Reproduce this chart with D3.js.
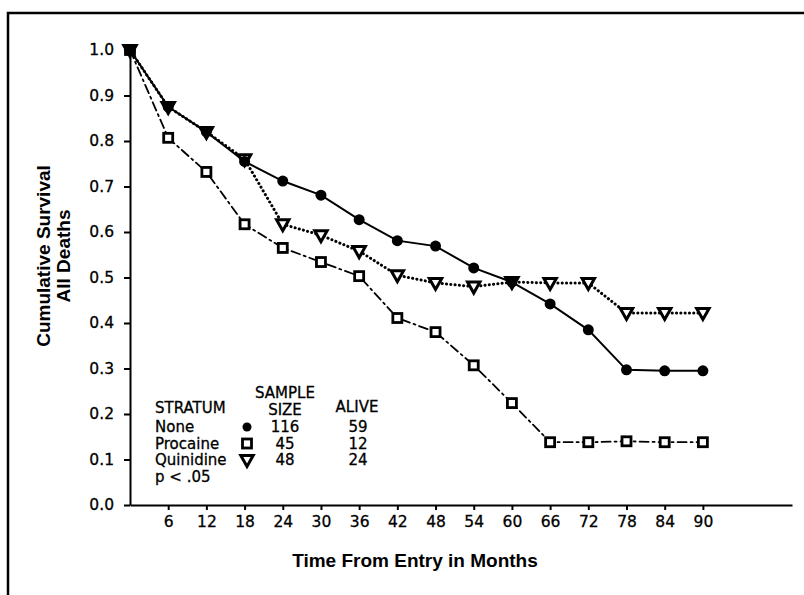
<!DOCTYPE html>
<html>
<head>
<meta charset="utf-8">
<script src="https://d3js.org/d3.v7.min.js"></script>
<style>
  body { margin: 0; background: #fff; }
  svg { font-family: "DejaVu Sans", "Liberation Sans", Arial, sans-serif; }
  .axis text { font-size: 15.5px; fill: #000; font-family: "DejaVu Sans", sans-serif; stroke: #000; stroke-width: 0.3; }
  .axis path, .axis line { stroke: #000; stroke-width: 2; }
  .axisLabel { font-size: 19px; font-weight: bold; font-family: "Liberation Sans", Arial, sans-serif; }
  .legend text { font-size: 15px; stroke: #000; stroke-width: 0.3; }
</style>
</head>
<body>
<script>
// survival curves
var months = [0, 6, 12, 18, 24, 30, 36, 42, 48, 54, 60, 66, 72, 78, 84, 90];
var noneVals = [1.0, 0.875, 0.82, 0.755, 0.712, 0.681, 0.627, 0.581, 0.569, 0.521, 0.49, 0.442, 0.385, 0.297, 0.295, 0.295];
var procaineVals = [1.0, 0.807, 0.732, 0.617, 0.565, 0.534, 0.503, 0.411, 0.38, 0.307, 0.224, 0.138, 0.138, 0.14, 0.138, 0.138];
var quinidineVals = [1.0, 0.875, 0.82, 0.76, 0.617, 0.593, 0.558, 0.505, 0.488, 0.48, 0.49, 0.488, 0.488, 0.422, 0.422, 0.422];

var xTicks = [6, 12, 18, 24, 30, 36, 42, 48, 54, 60, 66, 72, 78, 84, 90];
var yTicks = [0, 0.1, 0.2, 0.3, 0.4, 0.5, 0.6, 0.7, 0.8, 0.9, 1.0];

var strata = ["None", "Procaine", "Quinidine"];
var sampleSize = [116, 45, 48];
var alive = [59, 12, 24];

var width = 804, height = 595;
var margin = {left: 130, top: 50, right: 12, bottom: 90};

var svg = d3.select("body").append("svg")
  .attr("width", width)
  .attr("height", height);

// frame (top and left edge of the figure box)
svg.append("path")
  .attr("d", "M8,595 L8,13 L804,13")
  .attr("fill", "none")
  .attr("stroke", "#000")
  .attr("stroke-width", 2.5);

// scales - x axis runs past 90 months like the original
var xScale = d3.scaleLinear().domain([0, 104]).range([margin.left, 792]);
var yScale = d3.scaleLinear().domain([0, 1]).range([height - margin.bottom, margin.top]);

var xAxis = d3.axisBottom(xScale)
  .tickValues(xTicks)
  .tickSize(5)
  .tickSizeOuter(0)
  .tickPadding(6);

var yAxis = d3.axisLeft(yScale)
  .tickValues(yTicks)
  .tickFormat(d3.format(".1f"))
  .tickSize(6)
  .tickSizeOuter(0)
  .tickPadding(10);

svg.append("g")
  .attr("class", "axis")
  .attr("transform", "translate(0," + yScale(0) + ")")
  .call(xAxis);

svg.append("g")
  .attr("class", "axis")
  .attr("transform", "translate(" + xScale(0) + ",0)")
  .call(yAxis);

// axis titles
svg.append("text")
  .attr("class", "axisLabel")
  .attr("x", 415)
  .attr("y", 567)
  .attr("text-anchor", "middle")
  .text("Time From Entry in Months");

var yTitle = svg.append("text")
  .attr("class", "axisLabel")
  .attr("transform", "translate(50,256) rotate(-90)")
  .attr("text-anchor", "middle");
yTitle.append("tspan").attr("x", 0).attr("dy", 0).text("Cumulative Survival");
yTitle.append("tspan").attr("x", 0).attr("dy", "1.05em").text("All Deaths");

// series
var series = [
  {name: "Procaine", values: procaineVals, dash: "9,4,2,4", width: 1.8},
  {name: "Quinidine", values: quinidineVals, dash: "0.1,4.2", width: 3},
  {name: "None", values: noneVals, dash: null, width: 2}
];

var line = d3.line()
  .x(function(d, i) { return xScale(months[i]); })
  .y(function(d) { return yScale(d); });

series.forEach(function(s) {
  svg.append("path")
    .datum(s.values)
    .attr("fill", "none")
    .attr("stroke", "#000")
    .attr("stroke-width", s.width)
    .attr("stroke-linecap", "round")
    .attr("stroke-dasharray", s.dash)
    .attr("d", line);
});

var triPath = "M-6.2,-4.5 L6.2,-4.5 L0,6.5 Z";

function drawSquares(sel) {
  sel.append("rect")
    .attr("x", -4.5).attr("y", -4.5)
    .attr("width", 9).attr("height", 9)
    .attr("fill", "#fff")
    .attr("stroke", "#000")
    .attr("stroke-width", 2.8);
}
function drawTriangles(sel) {
  sel.append("path")
    .attr("d", triPath)
    .attr("fill", "#fff")
    .attr("stroke", "#000")
    .attr("stroke-width", 3)
    .attr("stroke-linejoin", "miter");
}
function drawCircles(sel) {
  sel.append("circle")
    .attr("r", 5.5)
    .attr("fill", "#000");
}

function markers(vals, cls, drawFn) {
  var g = svg.selectAll("g." + cls)
    .data(vals)
    .enter()
    .append("g")
    .attr("class", cls)
    .attr("transform", function(d, i) {
      return "translate(" + xScale(months[i]) + "," + yScale(d) + ")";
    });
  drawFn(g);
}

markers(procaineVals, "mk-proc", drawSquares);
markers(quinidineVals, "mk-quin", drawTriangles);
markers(noneVals, "mk-none", drawCircles);

// legend table
var legend = svg.append("g").attr("class", "legend");

legend.append("text").attr("x", 155).attr("y", 413).text("STRATUM");
legend.append("text").attr("x", 285).attr("y", 398).attr("text-anchor", "middle").text("SAMPLE");
legend.append("text").attr("x", 285).attr("y", 415).attr("text-anchor", "middle").text("SIZE");
legend.append("text").attr("x", 357).attr("y", 412).attr("text-anchor", "middle").text("ALIVE");

var rowY = [432, 448.5, 465];
strata.forEach(function(name, i) {
  legend.append("text").attr("x", 155).attr("y", rowY[i]).text(name);
  legend.append("text").attr("x", 285).attr("y", rowY[i]).attr("text-anchor", "middle").text(sampleSize[i]);
  legend.append("text").attr("x", 358).attr("y", rowY[i]).attr("text-anchor", "middle").text(alive[i]);
});
legend.append("text").attr("x", 155).attr("y", 482).text("p < .05");

// legend symbols
legend.append("circle").attr("cx", 247).attr("cy", 427).attr("r", 4.5).attr("fill", "#000");
legend.append("rect").attr("x", 242.5).attr("y", 439).attr("width", 9).attr("height", 9)
  .attr("fill", "#fff").attr("stroke", "#000").attr("stroke-width", 2.8);
legend.append("path").attr("d", triPath)
  .attr("transform", "translate(247,460)")
  .attr("fill", "#fff").attr("stroke", "#000").attr("stroke-width", 3);
</script>
</body>
</html>
